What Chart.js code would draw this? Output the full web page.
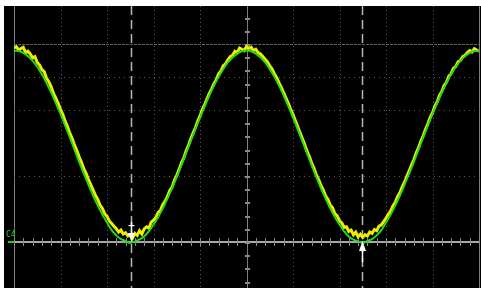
<!DOCTYPE html>
<html><head><meta charset="utf-8">
<script src="https://cdn.jsdelivr.net/npm/chart.js@4.4.0/dist/chart.umd.min.js"></script>
<style>
html,body{margin:0;padding:0;background:#fff;width:481px;height:288px;overflow:hidden}
#c{position:absolute;left:4px;top:6px}
</style></head><body>
<canvas id="c" width="477" height="282"></canvas>
<script>
// time axis in divisions (0..10), vertical axis in divisions above the C4 reference level
const greenStep = 0.1;
const yellowStep = 0.05;
const greenTrace = [5.80,5.79,5.73,5.63,5.49,5.31,5.08,4.82,4.53,4.21,3.88,3.53,3.17,2.80,2.43,2.08,1.74,1.41,1.11,0.83,0.59,0.36,0.20,0.09,0.03,-0.03,0.02,0.08,0.17,0.32,0.53,0.76,1.02,1.32,1.63,1.97,2.33,2.69,3.06,3.42,3.77,4.11,4.44,4.74,5.01,5.24,5.44,5.59,5.71,5.78,5.80,5.78,5.71,5.59,5.44,5.24,5.01,4.74,4.44,4.11,3.77,3.42,3.06,2.69,2.33,1.97,1.63,1.32,1.02,0.76,0.53,0.32,0.17,0.07,0.02,-0.03,0.03,0.09,0.20,0.36,0.59,0.83,1.11,1.41,1.74,2.08,2.43,2.80,3.17,3.53,3.88,4.21,4.53,4.82,5.08,5.31,5.49,5.63,5.73,5.79,5.80];
const yellowTrace = [5.88,5.92,5.82,5.86,5.90,5.74,5.78,5.70,5.58,5.62,5.44,5.36,5.22,5.16,4.96,4.86,4.70,4.50,4.36,4.20,4.02,3.86,3.66,3.50,3.30,3.14,2.94,2.78,2.58,2.42,2.22,2.08,1.90,1.74,1.58,1.42,1.30,1.12,1.02,0.86,0.78,0.64,0.56,0.48,0.40,0.30,0.36,0.24,0.28,0.18,0.22,0.12,0.26,0.20,0.34,0.24,0.40,0.46,0.42,0.60,0.66,0.74,0.90,0.96,1.14,1.24,1.38,1.56,1.66,1.88,2.02,2.20,2.40,2.54,2.76,2.92,3.12,3.30,3.46,3.66,3.82,4.02,4.16,4.34,4.50,4.64,4.80,4.92,5.10,5.18,5.34,5.40,5.52,5.62,5.66,5.78,5.74,5.88,5.84,5.80,5.92,5.86,5.90,5.80,5.84,5.74,5.70,5.62,5.54,5.46,5.34,5.24,5.10,4.98,4.82,4.68,4.52,4.36,4.20,4.02,3.86,3.68,3.50,3.32,3.14,2.96,2.76,2.60,2.40,2.24,2.04,1.90,1.72,1.58,1.40,1.30,1.12,1.04,0.86,0.80,0.64,0.58,0.44,0.46,0.32,0.36,0.22,0.30,0.16,0.24,0.14,0.22,0.18,0.30,0.26,0.38,0.34,0.48,0.52,0.62,0.72,0.84,0.94,1.10,1.20,1.38,1.50,1.68,1.82,2.00,2.16,2.34,2.50,2.70,2.86,3.06,3.22,3.42,3.58,3.78,3.92,4.12,4.24,4.44,4.56,4.74,4.84,5.02,5.10,5.26,5.32,5.46,5.50,5.62,5.66,5.74,5.80,5.76,5.86,5.82,5.78];
const cursorPositions = [2.516, 7.484];
const channelName = 'C4';
const xGrid = [0,1,2,3,4,5,6,7,8,9,10];
const yDottedGrid = [2,4,5];
const yDashedGrid = [6];

const greenData = greenTrace.map((v,i)=>({x:+(i*greenStep).toFixed(3), y:v}));
const yellowData = yellowTrace.map((v,i)=>({x:+(i*yellowStep).toFixed(3), y:v}));

const scopePlugin = {
  id:'scope',
  beforeDraw(chart){
    const c=chart.ctx;
    c.save(); c.fillStyle='#000'; c.fillRect(0,0,chart.width,chart.height); c.restore();
  },
  beforeDatasetsDraw(chart){
    const c=chart.ctx, xs=chart.scales.x, ys=chart.scales.y, a=chart.chartArea;
    c.save();
    const top=0, bot=chart.height;
    xGrid.forEach(v=>{
      const px=Math.round(xs.getPixelForValue(v))+0.5;
      if(v===0||v===10||v===5){
        c.strokeStyle='#7c7c7c'; c.lineWidth=1; c.setLineDash([]);
      } else {
        c.strokeStyle='#5e5e5e'; c.lineWidth=1; c.setLineDash([1,3]);
      }
      c.beginPath(); c.moveTo(px,top); c.lineTo(px,bot); c.stroke();
    });
    c.setLineDash([1,4]); c.strokeStyle='#5a5a5a';
    yDottedGrid.forEach(v=>{
      const py=Math.round(ys.getPixelForValue(v))+0.5;
      c.beginPath(); c.moveTo(a.left,py); c.lineTo(a.right,py); c.stroke();
    });
    c.setLineDash([3,1]); c.strokeStyle='#606060';
    yDashedGrid.forEach(v=>{
      const py=Math.round(ys.getPixelForValue(v))+0.5;
      c.beginPath(); c.moveTo(a.left,py); c.lineTo(a.right,py); c.stroke();
    });
    c.setLineDash([]);
    const py0=Math.round(ys.getPixelForValue(0));
    c.fillStyle='#a8a8a8';
    c.fillRect(a.left,py0-1,a.right-a.left,2);
    c.fillStyle='#8a8a8a';
    for(let t=0;t<=50;t++){
      const px=Math.round(xs.getPixelForValue(t*0.2));
      c.fillRect(px,py0-4,1,8);
    }
    const cx=Math.round(xs.getPixelForValue(5));
    c.fillStyle='#8a8a8a';
    for(let t=-4;t<=18;t++){
      const py=Math.round(ys.getPixelForValue(t*0.4));
      c.fillRect(cx-2,py,5,2);
    }
    c.strokeStyle='#b8b8b8'; c.lineWidth=1.5; c.setLineDash([9,5]);
    cursorPositions.forEach(v=>{
      const px=Math.round(xs.getPixelForValue(v))+0.5;
      c.beginPath(); c.moveTo(px,top); c.lineTo(px,bot); c.stroke();
    });
    c.restore();
  },
  afterDatasetsDraw(chart){
    const c=chart.ctx, xs=chart.scales.x, ys=chart.scales.y;
    c.save();
    const py0=ys.getPixelForValue(0);
    let px=Math.round(xs.getPixelForValue(cursorPositions[0]))+0.5;
    c.strokeStyle='#fff'; c.fillStyle='#fff'; c.lineWidth=1.5;
    c.beginPath(); c.moveTo(px,py0-20); c.lineTo(px,py0-6); c.stroke();
    c.beginPath(); c.moveTo(px-3.5,py0-9); c.lineTo(px+3.5,py0-9); c.lineTo(px,py0); c.closePath(); c.fill();
    c.fillRect(px-3,py0-17,6,1.2);
    px=Math.round(xs.getPixelForValue(cursorPositions[1]))+0.5;
    c.beginPath(); c.moveTo(px,py0+6); c.lineTo(px,py0+20); c.stroke();
    c.beginPath(); c.moveTo(px-3.5,py0+9); c.lineTo(px+3.5,py0+9); c.lineTo(px,py0-1); c.closePath(); c.fill();
    c.fillStyle='#1fd21f';
    const lx=xs.getPixelForValue(0);
    c.fillRect(lx-6,Math.round(py0)-1,6,2);
    c.font='8px "DejaVu Sans Mono", monospace';
    c.textBaseline='alphabetic';
    c.fillText(channelName,lx-8,py0-5);
    c.restore();
  }
};

new Chart(document.getElementById('c'),{
  type:'line',
  data:{datasets:[
    {label:'C4',data:greenData,borderColor:'#22d822',borderWidth:2,pointRadius:0,tension:0.2,fill:false},
    {label:'C1',data:yellowData,borderColor:'#eded00',borderWidth:3,pointRadius:0,tension:0,fill:false}
  ]},
  options:{
    responsive:false,animation:false,devicePixelRatio:1,
    layout:{padding:{left:10,right:2,top:0,bottom:0}},
    plugins:{legend:{display:false},tooltip:{enabled:false}},
    scales:{
      x:{type:'linear',min:0,max:10,display:false},
      y:{type:'linear',min:-1.394,max:7.1515,display:false}
    }
  },
  plugins:[scopePlugin]
});
</script>
</body></html>
